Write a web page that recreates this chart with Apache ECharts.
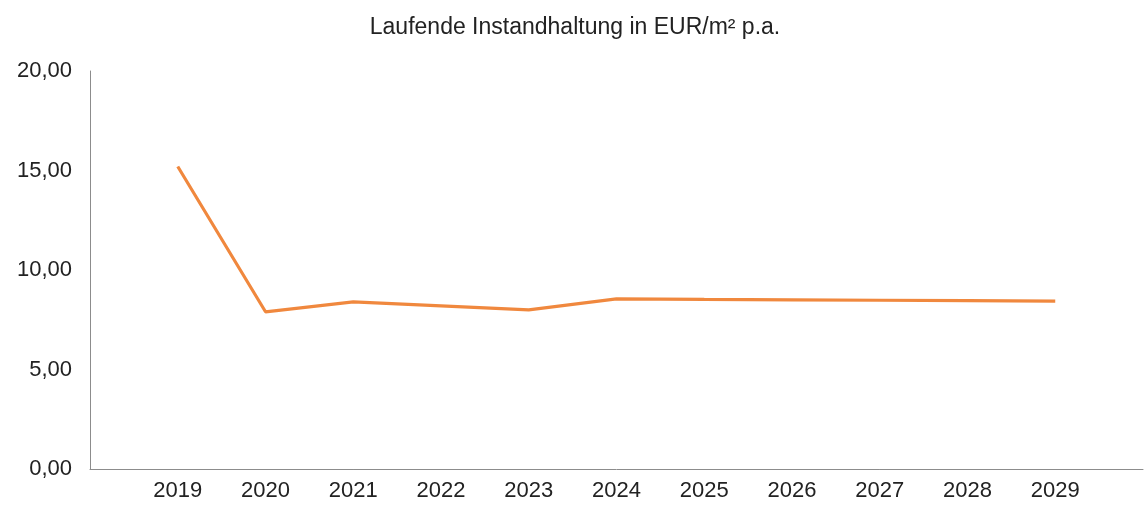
<!DOCTYPE html>
<html>
<head>
<meta charset="utf-8">
<script src="https://cdn.jsdelivr.net/npm/echarts@6/dist/echarts.min.js"></script>
<style>
html,body{margin:0;padding:0;background:#fff;}
#chart{width:1146px;height:508px;}
</style>
</head>
<body>
<div id="chart"></div>
<script>
const titleText = 'Laufende Instandhaltung in EUR/m² p.a.';
const years = [2019, 2020, 2021, 2022, 2023, 2024, 2025, 2026, 2027, 2028, 2029];
const values = [15.2, 7.9, 8.4, 8.2, 8.0, 8.55, 8.52, 8.5, 8.48, 8.46, 8.44];
const yTicks = [0, 5, 10, 15, 20];

const chart = echarts.init(document.getElementById('chart'));
chart.setOption({
  animation: false,
  backgroundColor: '#ffffff',
  title: {
    text: titleText,
    left: 570, top: 11,
    textAlign: 'center',
    textStyle: {fontFamily: 'Liberation Sans, Arial, sans-serif', fontSize: 23, fontWeight: 'normal', color: '#222222'}
  },
  grid: {left: 90, right: 0, top: 71, bottom: 39},
  xAxis: {
    type: 'value',
    min: 2018, max: 2030, interval: 1,
    axisLine: {show: true, onZero: false, lineStyle: {color: '#8c8c8c', width: 1}},
    axisTick: {show: false},
    splitLine: {show: false},
    axisLabel: {
      margin: 11,
      color: '#222222',
      fontFamily: 'Liberation Sans, Arial, sans-serif',
      fontSize: 22,
      formatter: v => years.indexOf(v) >= 0 ? String(v) : ''
    }
  },
  yAxis: {
    type: 'value',
    min: yTicks[0], max: yTicks[yTicks.length - 1], interval: 5,
    axisLine: {show: true, lineStyle: {color: '#8c8c8c', width: 1}},
    axisTick: {show: false},
    splitLine: {show: false},
    axisLabel: {
      margin: 18,
      color: '#222222',
      fontFamily: 'Liberation Sans, Arial, sans-serif',
      fontSize: 22,
      formatter: v => v.toFixed(2).replace('.', ',')
    }
  },
  series: [{
    type: 'line',
    data: years.map((y, i) => [y, values[i]]),
    showSymbol: false,
    symbol: 'none',
    lineStyle: {color: '#F0883E', width: 3.2},
    itemStyle: {color: '#F0883E'}
  }]
});
</script>
</body>
</html>
